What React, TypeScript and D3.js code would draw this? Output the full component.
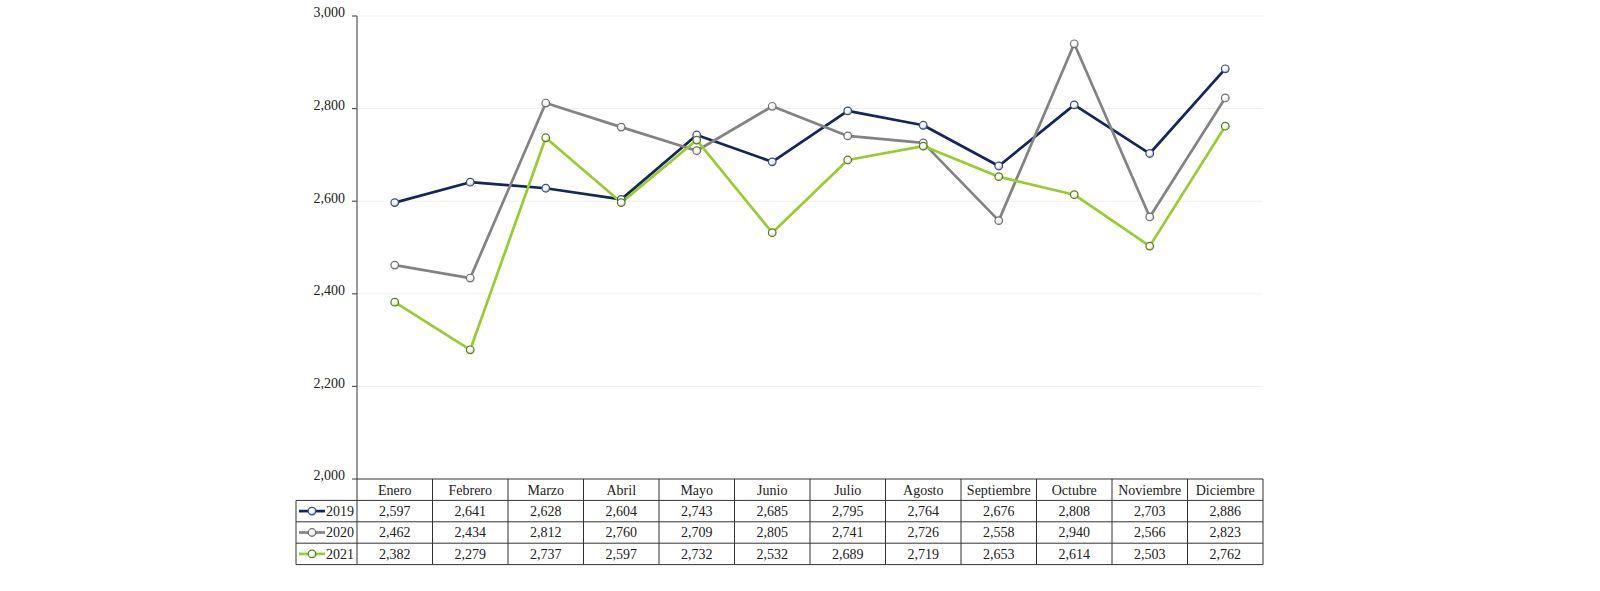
import React from "react";
import * as d3 from "d3";

const months = ["Enero","Febrero","Marzo","Abril","Mayo","Junio","Julio","Agosto","Septiembre","Octubre","Noviembre","Diciembre"];
const years = ["2019","2020","2021"];
const v2019 = [2597,2641,2628,2604,2743,2685,2795,2764,2676,2808,2703,2886];
const v2020 = [2462,2434,2812,2760,2709,2805,2741,2726,2558,2940,2566,2823];
const v2021 = [2382,2279,2737,2597,2732,2532,2689,2719,2653,2614,2503,2762];
const yTicks = [2000,2200,2400,2600,2800,3000];

const seriesValues = [v2019, v2020, v2021];
const colors = ["#14275a", "#838383", "#99cc2e"];
const markerTint = ["#6f8fc4", "#bdbdbd", "#aacc55"];
const markerStroke = ["#3a4f80", "#707070", "#5f7a20"];

export default function App() {
  const W = 1600, H = 591;
  const left = 357, right = 1263, top = 16, bottom = 479;
  const rowH = 21.4;
  const legendLeft = 296;
  const font = "'Liberation Serif', 'DejaVu Serif', serif";
  const fs = 14;

  const x = d3.scaleBand<string>().domain(months).range([left, right]).padding(0);
  const y = d3.scaleLinear().domain([2000, 3000]).range([bottom, top]);
  const fmt = d3.format(",");
  const cx = (i: number) => (x(months[i]) as number) + x.bandwidth() / 2;
  const line = d3.line<number>().x((_, i) => cx(i)).y(d => y(d));

  return (
    <svg width={W} height={H} style={{ position: "absolute", left: 0, top: 0, background: "#fff" }} fontFamily={font}>
      <defs>
        {markerTint.map((c, i) => (
          <radialGradient key={i} id={`mg${i}`} cx="40%" cy="35%" r="70%">
            <stop offset="0%" stopColor="#ffffff" />
            <stop offset="55%" stopColor="#f4f4f4" />
            <stop offset="100%" stopColor={c} />
          </radialGradient>
        ))}
      </defs>
      {yTicks.filter(t => t !== 2000).map(t => (
        <line key={t} x1={left} x2={right} y1={y(t)} y2={y(t)} stroke="#efefef" strokeWidth={1} />
      ))}
      <line x1={left} x2={left} y1={top} y2={bottom} stroke="#555" strokeWidth={1.2} />
      {yTicks.map(t => (
        <g key={t}>
          <line x1={left - 5} x2={left} y1={y(t)} y2={y(t)} stroke="#555" strokeWidth={1.2} />
          <text x={left - 12} y={y(t)} dy="0.1em" textAnchor="end" fontSize={fs} fill="#222">{fmt(t)}</text>
        </g>
      ))}
      {seriesValues.map((vals, si) => (
        <path key={si} d={line(vals) || ""} fill="none" stroke={colors[si]} strokeWidth={2.7} strokeLinejoin="round" />
      ))}
      {seriesValues.map((vals, si) => (
        <g key={"m" + si}>
          {vals.map((v, i) => (
            <circle key={i} cx={cx(i)} cy={y(v)} r={3.8}
              fill={`url(#mg${si})`} stroke={markerStroke[si]} strokeWidth={1.2} />
          ))}
        </g>
      ))}
      <g stroke="#333" strokeWidth={1}>
        <line x1={left} x2={right} y1={bottom} y2={bottom} />
        {[1, 2, 3, 4].map(r => (
          <line key={r} x1={legendLeft} x2={right} y1={bottom + r * rowH} y2={bottom + r * rowH} />
        ))}
        <line x1={legendLeft} x2={legendLeft} y1={bottom + rowH} y2={bottom + 4 * rowH} />
        {months.map(m => (
          <line key={m} x1={x(m) as number} x2={x(m) as number} y1={bottom} y2={bottom + 4 * rowH} />
        ))}
        <line x1={right} x2={right} y1={bottom} y2={bottom + 4 * rowH} />
      </g>
      {months.map((m, i) => (
        <text key={m} x={cx(i)} y={bottom + rowH / 2} dy="0.35em" textAnchor="middle" fontSize={fs} fill="#222">{m}</text>
      ))}
      {seriesValues.map((vals, si) => (
        <g key={"r" + si}>
          {vals.map((v, i) => (
            <text key={i} x={cx(i)} y={bottom + (si + 1.5) * rowH} dy="0.35em" textAnchor="middle" fontSize={fs} fill="#222">{fmt(v)}</text>
          ))}
          <line x1={legendLeft + 3} x2={legendLeft + 29} y1={bottom + (si + 1.5) * rowH} y2={bottom + (si + 1.5) * rowH} stroke={colors[si]} strokeWidth={2.7} />
          <circle cx={legendLeft + 16} cy={bottom + (si + 1.5) * rowH} r={3.8} fill={`url(#mg${si})`}
            stroke={markerStroke[si]} strokeWidth={1.2} />
          <text x={left - 3} y={bottom + (si + 1.5) * rowH} dy="0.35em" textAnchor="end" fontSize={fs} fill="#222">{years[si]}</text>
        </g>
      ))}
    </svg>
  );
}
